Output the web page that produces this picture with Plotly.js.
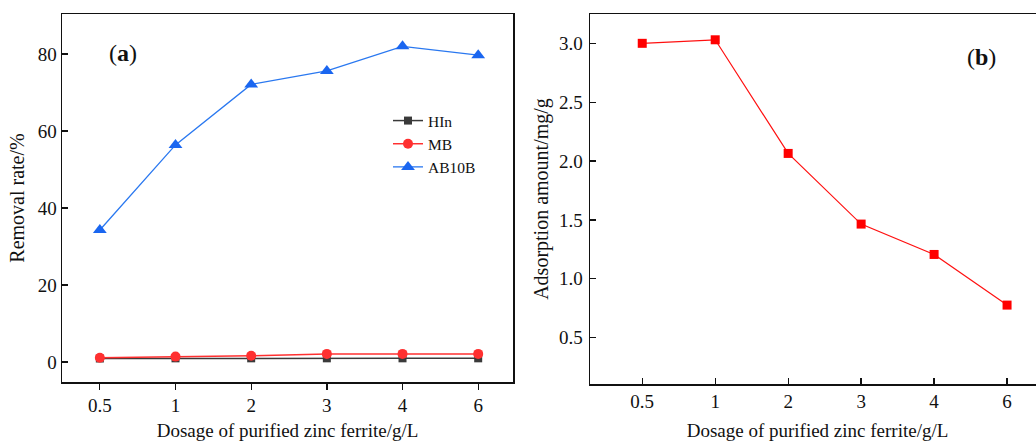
<!DOCTYPE html>
<html>
<head>
<meta charset="utf-8">
<script src="https://cdn.plot.ly/plotly-3.0.1.min.js"></script>
<style>
html,body{margin:0;padding:0;overflow:hidden;background:#fff;width:1036px;height:441px;}
#chart{width:1050px;height:441px;}
</style>
</head>
<body>
<div id="chart"></div>
<script>
const categories = ['0.5', '1', '2', '3', '4', '6'];
const seriesNames = ['HIn', 'MB', 'AB10B'];
const hlnRemoval = [0.9, 0.95, 0.95, 0.95, 0.95, 0.95];
const mbRemoval = [1.1, 1.4, 1.6, 2.1, 2.1, 2.1];
const ab10bRemoval = [34.3, 56.4, 72.1, 75.6, 82.0, 79.7];
const adsorptionAmount = [3.0, 3.03, 2.065, 1.465, 1.207, 0.777];
const removalTicks = [0, 20, 40, 60, 80];
const adsorptionTicks = [0.5, 1.0, 1.5, 2.0, 2.5, 3.0];

const W = 1050, H = 441;
const FAM = 'Liberation Serif, serif';
const mkFont = (size) => ({family: FAM, size: size, color: '#111'});
const px = v => v / W;
const py = v => (H - v) / H;

const traces = [
  {x: categories, y: hlnRemoval, name: seriesNames[0], type: 'scatter', mode: 'lines+markers',
   line: {color: '#3a3a3a', width: 1.5}, marker: {symbol: 'square', size: 8, color: '#3a3a3a'}, xaxis: 'x', yaxis: 'y'},
  {x: categories, y: mbRemoval, name: seriesNames[1], type: 'scatter', mode: 'lines+markers',
   line: {color: '#ff3030', width: 1.5}, marker: {symbol: 'circle', size: 10, color: '#ff3030'}, xaxis: 'x', yaxis: 'y'},
  {x: categories, y: ab10bRemoval, name: seriesNames[2], type: 'scatter', mode: 'lines+markers',
   line: {color: '#2a78f0', width: 1.3}, marker: {symbol: 'triangle-up', size: 12, color: '#1a66f0'}, xaxis: 'x', yaxis: 'y'},
  {x: categories, y: adsorptionAmount, name: 'Adsorption amount', type: 'scatter', mode: 'lines+markers', showlegend: false,
   line: {color: '#ff1010', width: 1.2}, marker: {symbol: 'square', size: 9, color: '#ff0000'}, xaxis: 'x2', yaxis: 'y2'}
];

function axis(extra) {
  return Object.assign({showline: true, linecolor: '#111', linewidth: 1.5, mirror: true, showgrid: false, zeroline: false,
    tickcolor: '#111', tickwidth: 1.3, ticklen: 6, tickfont: mkFont(19)}, extra);
}

const layout = {
  width: W, height: H,
  margin: {l: 0, r: 0, t: 0, b: 0},
  paper_bgcolor: '#fff', plot_bgcolor: '#fff',
  font: mkFont(19),
  showlegend: true,
  legend: {x: px(388), y: py(104), xanchor: 'left', yanchor: 'top', bgcolor: 'rgba(0,0,0,0)',
    font: mkFont(15.5), tracegroupgap: 0},
  xaxis: axis({domain: [px(62), px(513)], anchor: 'y', type: 'category',
    range: [-0.5, 5.46], ticks: 'outside',
    title: {text: 'Dosage of purified zinc ferrite/g/L', font: mkFont(19), standoff: 13}}),
  yaxis: axis({domain: [py(382), py(14)], anchor: 'x',
    range: [-5.2, 90.4], tickvals: removalTicks, ticks: 'inside',
    title: {text: 'Removal rate/%', font: mkFont(20), standoff: 7}}),
  xaxis2: axis({domain: [px(590), px(1045)], anchor: 'y2', type: 'category',
    range: [-0.716, 5.52], ticks: 'inside',
    title: {text: 'Dosage of purified zinc ferrite/g/L', font: mkFont(19), standoff: 20}}),
  yaxis2: axis({domain: [py(384), py(14)], anchor: 'x2',
    range: [0.107, 3.249], tickvals: adsorptionTicks, tickformat: '.1f', ticks: 'inside', ticklabelstandoff: 2,
    title: {text: 'Adsorption amount/mg/g', font: mkFont(20), standoff: 5}}),
  annotations: [
    {xref: 'paper', yref: 'paper', x: px(123), y: py(53), xanchor: 'center', yanchor: 'middle', text: '(<b>a</b>)', showarrow: false,
     font: mkFont(24)},
    {xref: 'paper', yref: 'paper', x: px(981), y: py(57), xanchor: 'center', yanchor: 'middle', text: '(<b>b</b>)', showarrow: false,
     font: mkFont(24)}
  ]
};

Plotly.newPlot('chart', traces, layout, {displayModeBar: false, staticPlot: true});
</script>
</body>
</html>
